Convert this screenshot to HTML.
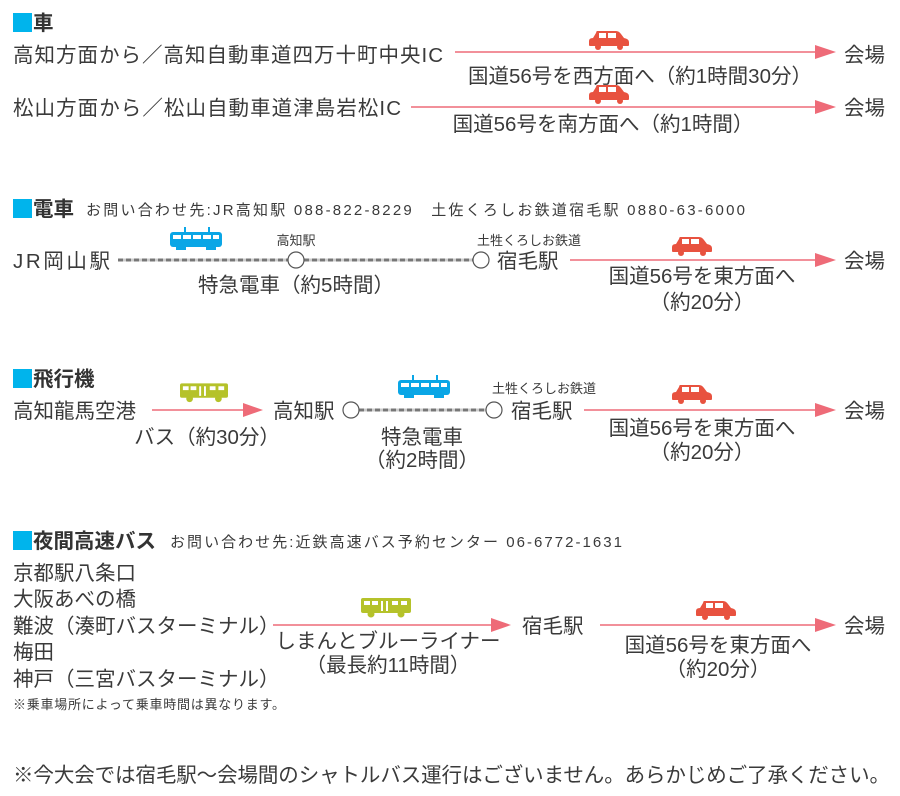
<!DOCTYPE html>
<html><head><meta charset="utf-8"><style>
html,body{margin:0;padding:0;background:#fff;}
svg{display:block;}
text{font-family:"Liberation Sans","Noto Sans CJK JP",sans-serif;fill:#3a3a3a;}
.m{font-size:20.5px;}
.s{font-size:13px;}
.n{font-size:15px;}
.h{font-size:20.5px;font-weight:bold;fill:#333;}
</style></head><body>
<svg width="900" height="796" viewBox="0 0 900 796" xmlns="http://www.w3.org/2000/svg">
<defs>
<symbol id="car" viewBox="0 0 42 20">
<path d="M9 1 H28 Q31 1 33 4 L36 8 Q41 9 41 12 V15 Q41 16 40 16 H2 Q1 16 1 15 V11 Q1 8 5 8 L8 3 Q8.5 1 9 1Z" fill="#e8523f"/>
<rect x="11" y="3" width="7" height="5" fill="#fff"/>
<rect x="20" y="3" width="8" height="5" fill="#fff"/>
<circle cx="10" cy="17" r="3" fill="#e8523f"/>
<circle cx="32" cy="17" r="3" fill="#e8523f"/>
</symbol>
<symbol id="bus" viewBox="0 0 50 20">
<rect x="0" y="0" width="50" height="15" rx="2" fill="#b5c22a"/>
<rect x="3" y="3" width="6" height="4" fill="#fff"/><rect x="11" y="3" width="6" height="4" fill="#fff"/>
<rect x="20" y="3" width="2" height="10" fill="#fff"/><rect x="25" y="3" width="2" height="10" fill="#fff"/>
<rect x="31" y="3" width="6" height="4" fill="#fff"/><rect x="40" y="3" width="6" height="4" fill="#fff"/>
<circle cx="10" cy="16" r="3.5" fill="#b5c22a"/><circle cx="40" cy="16" r="3.5" fill="#b5c22a"/>
</symbol>
<symbol id="train" viewBox="0 0 52 24">
<rect x="14" y="0" width="2" height="6" fill="#0aa6e6"/><rect x="38" y="0" width="2" height="6" fill="#0aa6e6"/>
<rect x="0" y="5" width="52" height="15" rx="3" fill="#0aa6e6"/>
<rect x="3" y="8" width="8" height="4" fill="#fff"/><rect x="13" y="8" width="8" height="4" fill="#fff"/>
<rect x="23" y="8" width="8" height="4" fill="#fff"/><rect x="33" y="8" width="8" height="4" fill="#fff"/>
<rect x="43" y="8" width="6" height="4" fill="#fff"/>
<rect x="6" y="18" width="10" height="5" fill="#0aa6e6"/><rect x="36" y="18" width="10" height="5" fill="#0aa6e6"/>
</symbol>
</defs>
<g stroke="#ee6b78" stroke-width="1.6">
<line x1="455" y1="52" x2="818" y2="52"/>
<line x1="411" y1="107" x2="818" y2="107"/>
<line x1="570" y1="260" x2="818" y2="260"/>
<line x1="152" y1="410" x2="246" y2="410"/>
<line x1="584" y1="410" x2="818" y2="410"/>
<line x1="273" y1="625" x2="494" y2="625"/>
<line x1="600" y1="625" x2="818" y2="625"/>
</g>
<g fill="#ee6b78">
<polygon points="815,45 836,52 815,59"/>
<polygon points="815,100 836,107 815,114"/>
<polygon points="815,253 836,260 815,267"/>
<polygon points="243,403 263,410 243,417"/>
<polygon points="815,403 836,410 815,417"/>
<polygon points="815,618 836,625 815,632"/>
<polygon points="491,618 511,625 491,632"/>
</g>
<g stroke="#ccc" stroke-width="3">
<line x1="118" y1="260" x2="473" y2="260"/><line x1="359" y1="410" x2="486" y2="410"/>
</g>
<g stroke="#777" stroke-width="3" stroke-dasharray="5,3">
<line x1="118" y1="260" x2="288" y2="260"/>
<line x1="304" y1="260" x2="473" y2="260"/>
<line x1="359" y1="410" x2="486" y2="410"/>
</g>
<g fill="#fff" stroke="#555" stroke-width="1.2">
<circle cx="296" cy="260" r="8"/><circle cx="481" cy="260" r="8"/>
<circle cx="351" cy="410" r="8"/><circle cx="494" cy="410" r="8"/>
</g>
<use href="#car" x="588" y="30" width="42" height="20"/>
<use href="#car" x="588" y="84" width="42" height="20"/>
<use href="#car" x="671" y="236" width="42" height="20"/>
<use href="#car" x="671" y="384" width="42" height="20"/>
<use href="#car" x="695" y="600" width="42" height="20"/>
<use href="#train" x="170" y="227" width="52" height="24"/>
<use href="#train" x="398" y="375" width="52" height="24"/>
<use href="#bus" x="180" y="383" width="48" height="20"/>
<use href="#bus" x="361" y="598" width="50" height="20"/>
<g fill="#00b4ec">
<rect x="13" y="13" width="19" height="19"/>
<rect x="13" y="199" width="19" height="19"/>
<rect x="13" y="369" width="19" height="19"/>
<rect x="13" y="531" width="19" height="19"/>
</g>
<text class="h" x="33" y="30">車</text>
<text class="h" x="33" y="216">電車</text>
<text class="n" x="86" y="215" textLength="659">お問い合わせ先:JR高知駅 088-822-8229　土佐くろしお鉄道宿毛駅 0880-63-6000</text>
<text class="h" x="33" y="386">飛行機</text>
<text class="h" x="33" y="548">夜間高速バス</text>
<text class="n" x="170" y="547" textLength="452">お問い合わせ先:近鉄高速バス予約センター 06-6772-1631</text>

<text class="m" x="13" y="62" textLength="430">高知方面から／高知自動車道四万十町中央IC</text>
<text class="m" x="844" y="62">会場</text>
<text class="m" x="640" y="83" text-anchor="middle">国道56号を西方面へ（約1時間30分）</text>
<text class="m" x="13" y="115" textLength="388">松山方面から／松山自動車道津島岩松IC</text>
<text class="m" x="844" y="115">会場</text>
<text class="m" x="603" y="131" text-anchor="middle">国道56号を南方面へ（約1時間）</text>

<text class="m" x="13" y="268" textLength="97">JR岡山駅</text>
<text class="s" x="296" y="245" text-anchor="middle">高知駅</text>
<text class="s" x="529" y="245" text-anchor="middle">土牲くろしお鉄道</text>
<text class="m" x="497" y="268">宿毛駅</text>
<text class="m" x="296" y="292" text-anchor="middle">特急電車（約5時間）</text>
<text class="m" x="844" y="268">会場</text>
<text class="m" x="702" y="283" text-anchor="middle">国道56号を東方面へ</text>
<text class="m" x="702" y="309" text-anchor="middle">（約20分）</text>

<text class="m" x="13" y="418">高知龍馬空港</text>
<text class="m" x="207" y="444" text-anchor="middle">バス（約30分）</text>
<text class="m" x="273" y="418">高知駅</text>
<text class="s" x="544" y="393" text-anchor="middle">土牲くろしお鉄道</text>
<text class="m" x="511" y="418">宿毛駅</text>
<text class="m" x="422" y="444" text-anchor="middle">特急電車</text>
<text class="m" x="422" y="467" text-anchor="middle">（約2時間）</text>
<text class="m" x="844" y="418">会場</text>
<text class="m" x="702" y="435" text-anchor="middle">国道56号を東方面へ</text>
<text class="m" x="702" y="459" text-anchor="middle">（約20分）</text>

<text class="m" x="13" y="580">京都駅八条口</text>
<text class="m" x="13" y="606">大阪あべの橋</text>
<text class="m" x="13" y="633">難波（湊町バスターミナル）</text>
<text class="m" x="13" y="659">梅田</text>
<text class="m" x="13" y="686">神戸（三宮バスターミナル）</text>
<text class="s" x="13" y="709" textLength="272">※乗車場所によって乗車時間は異なります。</text>
<text class="m" x="388" y="648" text-anchor="middle">しまんとブルーライナー</text>
<text class="m" x="388" y="672" text-anchor="middle">（最長約11時間）</text>
<text class="m" x="522" y="633">宿毛駅</text>
<text class="m" x="844" y="633">会場</text>
<text class="m" x="718" y="652" text-anchor="middle">国道56号を東方面へ</text>
<text class="m" x="718" y="676" text-anchor="middle">（約20分）</text>

<text class="m" x="13" y="782" textLength="877">※今大会では宿毛駅〜会場間のシャトルバス運行はございません。あらかじめご了承ください。</text>
</svg>
</body></html>
